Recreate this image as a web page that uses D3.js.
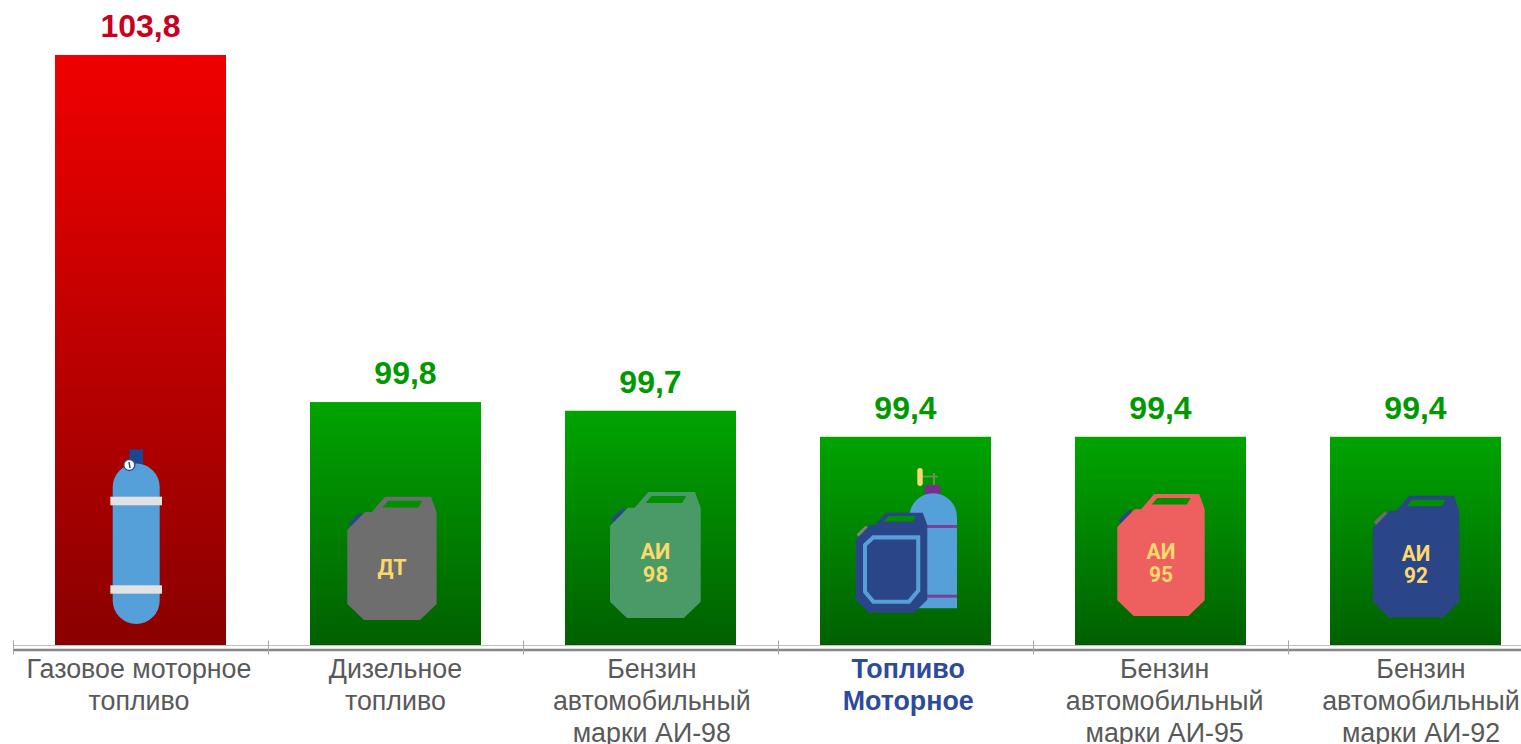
<!DOCTYPE html>
<html>
<head>
<meta charset="utf-8">
<script src="https://cdn.jsdelivr.net/npm/d3@7"></script>
<style>
  html, body { margin: 0; padding: 0; background: #fff; overflow: hidden; }
  svg { display: block; font-family: "Liberation Sans", Arial, sans-serif; }
</style>
</head>
<body>
<div id="chart"></div>
<script>
const categories = ["gas", "diesel", "ai98", "motor", "ai95", "ai92"]
const values = [103.8, 99.8, 99.7, 99.4, 99.4, 99.4]
const categoryLabels = [
  ["Газовое моторное", "топливо"],
  ["Дизельное", "топливо"],
  ["Бензин", "автомобильный", "марки АИ-98"],
  ["Топливо", "Моторное"],
  ["Бензин", "автомобильный", "марки АИ-95"],
  ["Бензин", "автомобильный", "марки АИ-92"],
]
const yDomain = [97, 103.8]

const width = 1521
const height = 744
const baseline = 645

const x = d3.scaleBand()
  .domain(categories)
  .range([13, 1543])
  .paddingInner(84 / 255)
  .paddingOuter(42 / 255)

const y = d3.scaleLinear().domain(yDomain).range([baseline, 55])

// tick marks sit on the band edges, not the centres
const tickScale = d3.scaleLinear().domain([0, categories.length]).range([13, 1543])

// the category text drifts a little wider than the bars in the original
const labelX = d3.scalePoint().domain(categories).range([139, 1421])

const svg = d3.select("#chart")
  .append("svg")
  .attr("width", width)
  .attr("height", height)
  .attr("viewBox", `0 0 ${width} ${height}`)

const defs = svg.append("defs")
function addGradient(id, top, bottom) {
  const gradient = defs.append("linearGradient")
    .attr("id", id)
    .attr("x1", 0).attr("y1", 0).attr("x2", 0).attr("y2", 1)
  gradient.append("stop").attr("offset", "0%").attr("stop-color", top)
  gradient.append("stop").attr("offset", "100%").attr("stop-color", bottom)
}
addGradient("bar-red", "#f00000", "#8a0000")
addGradient("bar-green", "#00a400", "#006000")

svg.append("g")
  .selectAll("rect")
  .data(categories)
  .join("rect")
  .attr("x", d => x(d))
  .attr("y", (d, i) => y(values[i]))
  .attr("width", x.bandwidth())
  .attr("height", (d, i) => baseline - y(values[i]))
  .attr("fill", d => d === "gas" ? "url(#bar-red)" : "url(#bar-green)")

// axis: thin light line at the bar feet, heavier one under it, ticks through both
svg.append("line")
  .attr("x1", 13).attr("x2", 1543)
  .attr("y1", baseline + 0.5).attr("y2", baseline + 0.5)
  .attr("stroke", "#bfbfbf")

svg.append("g")
  .attr("transform", `translate(0,${baseline + 4.5})`)
  .call(d3.axisBottom(tickScale).tickValues(d3.range(categories.length + 1)).tickSize(5).tickSizeOuter(0).tickFormat(""))
  .call(g => g.select(".domain").attr("stroke", "#868686").attr("stroke-width", 2.5))
  .call(g => g.selectAll(".tick line").attr("stroke", "#a6a6a6").attr("y1", -9))

svg.append("g")
  .selectAll("text")
  .data(categories)
  .join("text")
  .attr("x", d => x(d) + x.bandwidth() / 2 + (d === "diesel" ? 10 : 0))
  .attr("y", (d, i) => y(values[i]) - 18)
  .attr("text-anchor", "middle")
  .attr("font-size", 32)
  .attr("font-weight", 700)
  .attr("fill", d => d === "gas" ? "#c8001e" : "#009900")
  .text((d, i) => d3.format(".1f")(values[i]).replace(".", ","))

const labels = svg.append("g")
  .selectAll("text")
  .data(categories)
  .join("text")
  .attr("text-anchor", "middle")
  .attr("font-size", 26.8)
  .attr("font-weight", d => d === "motor" ? 700 : 400)
  .attr("fill", d => d === "motor" ? "#2e4a9e" : "#595959")

labels.each(function(d, i) {
  d3.select(this).selectAll("tspan")
    .data(categoryLabels[i])
    .join("tspan")
    .attr("x", labelX(d))
    .attr("y", (line, n) => 678 + n * 32)
    .text(line => line)
})

// icons below are decoration, not data
const polygon = d3.line().curve(d3.curveLinearClosed)
const canisterBody = [[0, 33.3], [17.7, 15.3], [24.3, 15.3], [37.7, 0], [83.7, 0], [89.3, 15.3], [89.3, 107.3], [72.7, 123.3], [16.7, 123.3], [0, 107.3]]
const canisterHole = [[35, 10.7], [41, 4], [75, 4], [71, 10.7]]
const canisterCap = [[1, 26.7], [12.7, 15.7], [16, 19], [4.3, 30]]
const canisterFrame = [[11.6, 39.9], [22, 30.4], [78, 30.4], [78, 96], [66.5, 109.7], [22, 109.7], [11.6, 97.4]]

const iconLayer = svg.append("g")

function canister(left, top, w, h, options) {
  const g = iconLayer.append("g")
    .attr("transform", `translate(${left},${top}) scale(${w / 89.3},${h / 123.3})`)
  g.append("path").attr("d", polygon(canisterCap)).attr("fill", options.cap)
  g.append("path").attr("d", polygon(canisterBody)).attr("fill", options.body)
  g.append("path").attr("d", polygon(canisterHole)).attr("fill", options.hole || "#009000")
  if (options.frame) {
    g.append("path").attr("d", polygon(canisterFrame))
      .attr("fill", "none").attr("stroke", options.frame).attr("stroke-width", 5)
  }
  ;(options.text || []).forEach((line, n) => {
    g.append("text")
      .attr("x", 44.7)
      .attr("y", options.textY + n * 22.5)
      .attr("text-anchor", "middle")
      .attr("font-family", "Roboto, sans-serif")
      .attr("font-weight", 700)
      .attr("font-size", 21.5)
      .attr("fill", "#fbd96b")
      .text(line)
  })
}

function capsule(g, left, right, top, bottom, radiusBottom, fill) {
  const r = (right - left) / 2
  const path = d3.path()
  path.moveTo(left, top + r)
  path.arc(left + r, top + r, r, Math.PI, 0)
  path.lineTo(right, bottom - radiusBottom)
  if (radiusBottom > 0) path.arc(left + r, bottom - r, r, 0, Math.PI)
  else path.lineTo(left, bottom)
  path.closePath()
  g.append("path").attr("d", path.toString()).attr("fill", fill)
}

function gasCylinder() {
  const g = iconLayer.append("g")
  g.append("rect").attr("x", 129.3).attr("y", 449.3).attr("width", 13.7).attr("height", 18).attr("fill", "#1f4590")
  capsule(g, 112.7, 159.7, 463.5, 624, 23.5, "#55a0d8")
  g.append("rect").attr("x", 110.3).attr("y", 496.7).attr("width", 51.7).attr("height", 8.6).attr("fill", "#e2e2e2")
  g.append("rect").attr("x", 110.3).attr("y", 585.3).attr("width", 51.7).attr("height", 8.4).attr("fill", "#e2e2e2")
  g.append("circle").attr("cx", 129.3).attr("cy", 465).attr("r", 5.5).attr("fill", "#fff").attr("stroke", "#2b4589").attr("stroke-width", 1.3)
  g.append("line").attr("x1", 129).attr("y1", 462).attr("x2", 130).attr("y2", 468).attr("stroke", "#2b4589").attr("stroke-width", 1.5)
}

function motorCylinder() {
  const g = iconLayer.append("g")
  g.append("line").attr("x1", 922).attr("x2", 938).attr("y1", 476.5).attr("y2", 476.5).attr("stroke", "#6f8f60").attr("stroke-width", 1.6)
  g.append("line").attr("x1", 934).attr("x2", 934).attr("y1", 473).attr("y2", 486).attr("stroke", "#6f8f60").attr("stroke-width", 2)
  g.append("rect").attr("x", 917.3).attr("y", 468).attr("width", 5.4).attr("height", 18).attr("rx", 2.7).attr("fill", "#fbd96b")
  g.append("rect").attr("x", 924.3).attr("y", 485).attr("width", 16.4).attr("height", 10).attr("rx", 4).attr("fill", "#7b2d8e")
  capsule(g, 909.3, 957, 493.3, 608.3, 0, "#55a0d8")
  g.append("rect").attr("x", 925).attr("y", 525).attr("width", 32).attr("height", 3).attr("fill", "#7b3f9e")
  g.append("rect").attr("x", 925).attr("y", 594.7).attr("width", 32).attr("height", 3).attr("fill", "#7b3f9e")
}

gasCylinder()
canister(347.3, 496.7, 89.3, 123.3, {body: "#6e6e6e", cap: "#2b4589", text: ["ДТ"], textY: 78.5})
canister(610, 492, 90.7, 126, {body: "#4a9a68", cap: "#2b4589", text: ["АИ", "98"], textY: 66})
motorCylinder()
canister(855.7, 512.7, 71.6, 100, {body: "#2b4589", cap: "#7a8a70", frame: "#55a0d8"})
canister(1117.3, 494, 87.4, 122, {body: "#ee6060", cap: "#2b4589", text: ["АИ", "95"], textY: 66})
canister(1372.7, 495.7, 86.6, 121.6, {body: "#2b4589", cap: "#6e6e6e", text: ["АИ", "92"], textY: 66})
</script>
</body>
</html>
